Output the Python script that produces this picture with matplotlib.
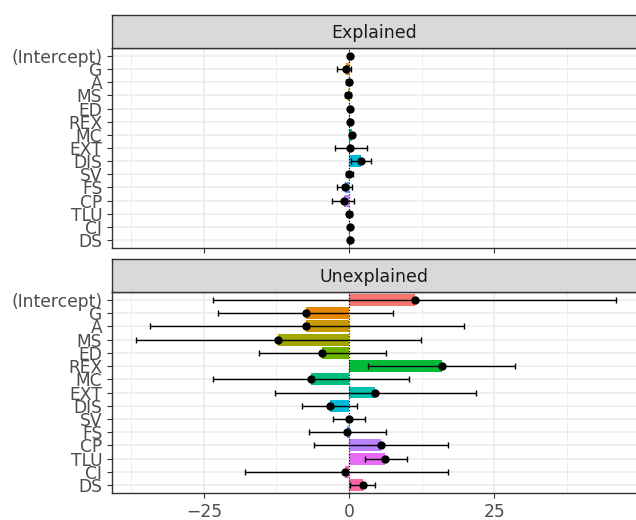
import numpy as np
import matplotlib.pyplot as plt

terms = ['(Intercept)', 'G', 'A', 'MS', 'ED', 'REX', 'MC', 'EXT',
         'DIS', 'SV', 'FS', 'CP', 'TLU', 'CI', 'DS']

colors = ['#F8766D', '#E58700', '#C99800', '#A3A500', '#6BB100',
          '#00BA38', '#00BF7D', '#00C0AF', '#00BCD8', '#00B0F6',
          '#619CFF', '#B983FF', '#E76BF3', '#FD61D1', '#FF67A4']

# explained part
expl_est = [0.1, -0.6, -0.1, -0.2, 0.1, 0.2, 0.45, 0.1,
            2.0, 0.0, -0.75, -0.9, 0.05, 0.1, 0.1]
expl_lo = [-0.1, -2.1, -0.5, -0.7, -0.1, 0.1, 0.3, -2.4,
           0.4, -0.5, -2.1, -2.9, -0.4, 0.0, -0.1]
expl_hi = [0.3, 0.35, 0.3, 0.3, 0.3, 0.3, 0.6, 3.0,
           3.8, 0.6, 0.45, 0.8, 0.5, 0.2, 0.3]

# unexplained part
unex_est = [11.3, -7.4, -7.4, -12.2, -4.6, 15.9, -6.5, 4.5,
            -3.3, -0.1, -0.4, 5.5, 6.1, -0.7, 2.4]
unex_lo = [-23.5, -22.5, -34.3, -36.6, -15.5, 3.2, -23.5, -12.7,
           -8.1, -2.7, -6.9, -6.0, 2.7, -18.0, 0.2]
unex_hi = [45.9, 7.6, 19.7, 12.3, 6.4, 28.6, 10.3, 21.9,
           1.3, 2.7, 6.4, 17.1, 9.9, 17.1, 4.4]

W, H = 636, 520
fig = plt.figure(figsize=(W / 100, H / 100), dpi=100)

ypos = np.arange(len(terms))[::-1]
xlim = (-40.8, 50.4)


def panel(rect, strip_rect, title, est, lo, hi, show_x):
    ax = fig.add_axes(rect)
    est = np.array(est)
    ax.barh(ypos, est, height=0.9, color=colors, zorder=2)
    ax.axvline(0, color='black', ls=':', lw=0.8, zorder=3)
    ax.errorbar(est, ypos,
                xerr=[est - np.array(lo), np.array(hi) - est],
                fmt='none', ecolor='black', elinewidth=1.0,
                capsize=2, capthick=1.0, zorder=4)
    ax.plot(est, ypos, 'o', color='black', ms=5, zorder=5)

    ax.set_xlim(xlim)
    ax.set_ylim(-0.6, len(terms) - 0.4)
    ax.set_yticks(ypos)
    ax.set_yticklabels(terms)
    ax.set_xticks([-25, 0, 25])
    ax.set_xticks([-37.5, -12.5, 12.5, 37.5], minor=True)
    ax.grid(True, which='major', color='#EBEBEB', lw=1.1, zorder=0)
    ax.grid(True, which='minor', axis='x', color='#EBEBEB', lw=0.6, zorder=0)
    ax.set_axisbelow(True)
    for s in ax.spines.values():
        s.set_color('#333333')
        s.set_linewidth(1.0)
    ax.tick_params(axis='both', which='major', colors='#333333', length=3.5,
                   labelcolor='#4D4D4D', labelsize=12.3)
    ax.tick_params(axis='both', which='minor', length=0)
    if not show_x:
        ax.tick_params(axis='x', labelbottom=False)

    st = fig.add_axes(strip_rect)
    st.set_facecolor('#D9D9D9')
    st.set_xticks([])
    st.set_yticks([])
    for s in st.spines.values():
        s.set_color('#333333')
        s.set_linewidth(1.0)
    # centre the strip label on the visible part of the panel
    st.text((636 - 112) / 2 / (642 - 112), 0.45, title, ha='center', va='center',
            fontsize=12.5, color='#1A1A1A', transform=st.transAxes)
    return ax


left = 112 / W
width = (642 - 112) / W


def box(top, bottom):
    return [left, (H - bottom) / H, width, (bottom - top) / H]


panel(box(48, 248), box(15, 48), 'Explained',
      expl_est, expl_lo, expl_hi, False)
panel(box(292, 493), box(259, 292), 'Unexplained',
      unex_est, unex_lo, unex_hi, True)

plt.savefig('out.png', dpi=100)
